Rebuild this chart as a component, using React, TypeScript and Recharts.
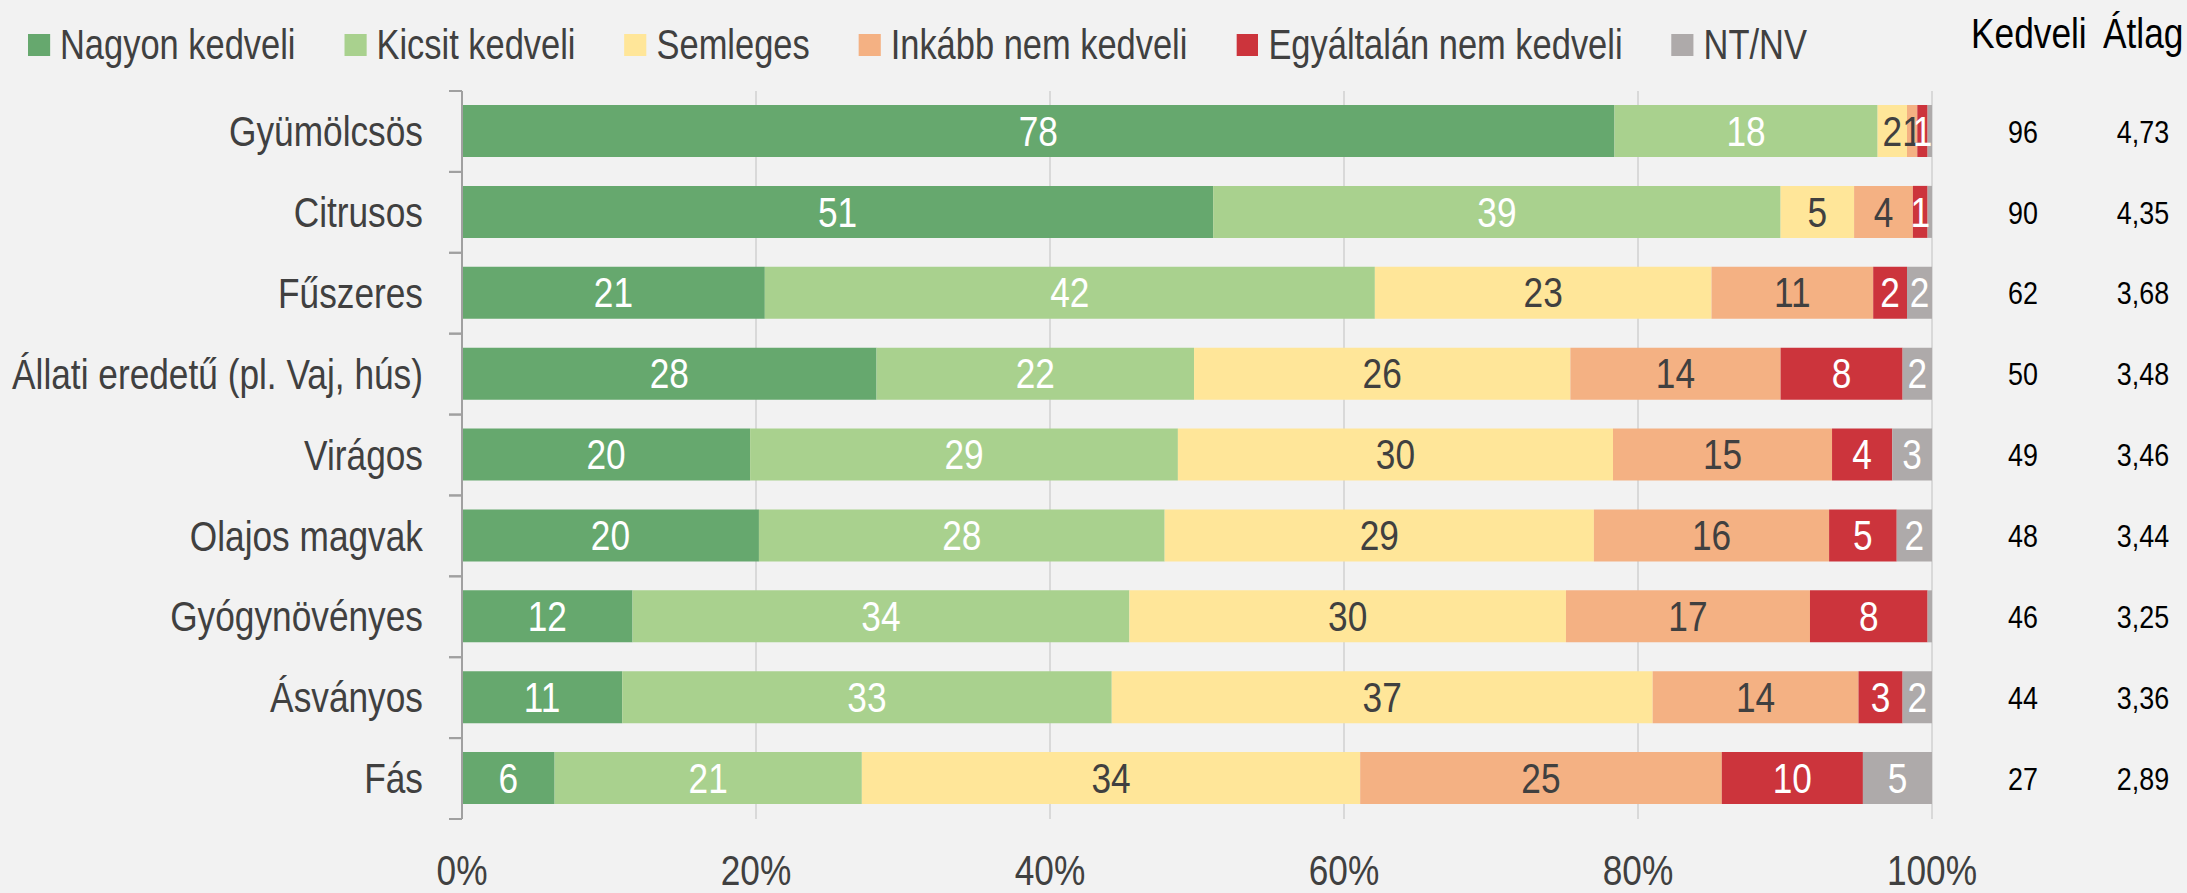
import React from "react";
import {
  BarChart,
  Bar,
  XAxis,
  YAxis,
  CartesianGrid,
  LabelList,
} from "recharts";

// Arial Narrow look-alike: Liberation Sans squeezed horizontally
const FONT = "'Liberation Sans', Arial, sans-serif";
const NARROW = 0.84;
const LEGEND_NARROW = 0.82;

const categories = [
  "Gyümölcsös",
  "Citrusos",
  "Fűszeres",
  "Állati eredetű (pl. Vaj, hús)",
  "Virágos",
  "Olajos magvak",
  "Gyógynövényes",
  "Ásványos",
  "Fás",
];

const nagyon = [78.4, 51.1, 20.6, 28.2, 19.6, 20.2, 11.6, 10.9, 6.3];
const kicsit = [17.9, 38.6, 41.5, 21.6, 29.1, 27.6, 33.8, 33.3, 20.9];
const semleges = [2.0, 5.0, 22.9, 25.6, 29.6, 29.2, 29.7, 36.8, 33.9];
const inkabb = [0.7, 4.0, 11.0, 14.3, 14.9, 16.0, 16.6, 14.0, 24.6];
const egyaltalan = [0.7, 1.0, 2.3, 8.3, 4.1, 4.6, 8.0, 3.0, 9.6];
const ntnv = [0.3, 0.3, 1.7, 2.0, 2.7, 2.4, 0.3, 2.0, 4.7];

const kedveli = [96, 90, 62, 50, 49, 48, 46, 44, 27];
const atlag = ["4,73", "4,35", "3,68", "3,48", "3,46", "3,44", "3,25", "3,36", "2,89"];

const xTicks = [0, 20, 40, 60, 80, 100];

const series = [
  { key: "nagyon", name: "Nagyon kedveli", color: "#66A86E", text: "#FFFFFF" },
  { key: "kicsit", name: "Kicsit kedveli", color: "#A9D18E", text: "#FFFFFF" },
  { key: "semleges", name: "Semleges", color: "#FFE699", text: "#404040" },
  { key: "inkabb", name: "Inkább nem kedveli", color: "#F4B183", text: "#404040" },
  { key: "egyaltalan", name: "Egyáltalán nem kedveli", color: "#CC343C", text: "#FFFFFF" },
  { key: "ntnv", name: "NT/NV", color: "#AEAAAA", text: "#FFFFFF" },
];

const data = categories.map((name, i) => ({
  name,
  nagyon: nagyon[i],
  kicsit: kicsit[i],
  semleges: semleges[i],
  inkabb: inkabb[i],
  egyaltalan: egyaltalan[i],
  ntnv: ntnv[i],
}));

const fmt = (v: any) => {
  const r = Math.round(Number(v));
  return r >= 1 ? String(r) : "";
};

const NText = ({ x, y, anchor = "middle", fill = "#404040", size = 42, dy = "0.35em", children }: any) => (
  <text
    transform={`translate(${x} ${y}) scale(${NARROW} 1)`}
    x={0}
    y={0}
    dy={dy}
    textAnchor={anchor}
    fill={fill}
    fontSize={size}
    fontFamily={FONT}
  >
    {children}
  </text>
);

const CatTick = (props: any) => {
  const { x, y, payload } = props;
  const half = payload.offset ?? 40.45;
  const edge = x + 39;
  return (
    <g>
      <NText x={x} y={y} anchor="end">
        {payload.value}
      </NText>
      <line x1={edge - 13} x2={edge} y1={y - half} y2={y - half} stroke="#A0A0A0" strokeWidth={2} />
      <line x1={edge - 13} x2={edge} y1={y + half} y2={y + half} stroke="#A0A0A0" strokeWidth={2} />
    </g>
  );
};

const PctTick = (props: any) => {
  const { x, y, payload } = props;
  return (
    <NText x={x} y={y} dy="0.71em">
      {`${payload.value}%`}
    </NText>
  );
};

const RightTick = (props: any) => {
  const { x, y, payload } = props;
  const i = categories.indexOf(payload.value);
  return (
    <g>
      <NText x={x + 91} y={y} fill="#000" size={32}>
        {kedveli[i]}
      </NText>
      <NText x={x + 211} y={y} fill="#000" size={32}>
        {atlag[i]}
      </NText>
    </g>
  );
};

const makeLabel = (color: string) => (p: any) => {
  const { x, y, width, height, value } = p;
  const t = fmt(value);
  if (!t) return null;
  return (
    <NText x={x + width / 2} y={y + height / 2} fill={color}>
      {t}
    </NText>
  );
};

const headerStyle: React.CSSProperties = {
  position: "absolute",
  top: 12.5,
  fontSize: 42,
  lineHeight: "42px",
  color: "#000",
  whiteSpace: "nowrap",
  transform: `scaleX(${NARROW})`,
  transformOrigin: "0 0",
};

export default function App() {
  return (
    <div
      style={{
        position: "absolute",
        left: 0,
        top: 0,
        width: 2187,
        height: 893,
        background: "#F2F2F2",
        fontFamily: FONT,
        overflow: "hidden",
      }}
    >
      <div
        style={{
          position: "absolute",
          left: 28,
          top: 23.5,
          display: "flex",
          alignItems: "center",
          fontSize: 42,
          lineHeight: "42px",
          color: "#404040",
          whiteSpace: "nowrap",
          transform: `scaleX(${LEGEND_NARROW})`,
          transformOrigin: "0 0",
        }}
      >
        {series.map((s) => (
          <div key={s.key} style={{ display: "flex", alignItems: "center", marginRight: 49 / LEGEND_NARROW }}>
            <span
              style={{ width: 22 / LEGEND_NARROW, height: 22, background: s.color, marginRight: 10 / LEGEND_NARROW }}
            />
            <span>{s.name}</span>
          </div>
        ))}
      </div>
      <div style={{ ...headerStyle, left: 1971 }}>Kedveli</div>
      <div style={{ ...headerStyle, left: 2103 }}>Átlag</div>
      <BarChart
        width={2187}
        height={893}
        data={data}
        layout="vertical"
        margin={{ top: 91, right: 0, bottom: 0, left: 0 }}
        barSize={52}
      >
        <CartesianGrid horizontal={false} stroke="#D9D9D9" strokeWidth={2} />
        <XAxis
          type="number"
          domain={[0, 100]}
          ticks={xTicks}
          allowDataOverflow
          axisLine={false}
          tickLine={false}
          tickSize={0}
          tickMargin={36}
          height={74}
          tick={<PctTick />}
          interval={0}
        />
        <YAxis
          yAxisId="cat"
          type="category"
          dataKey="name"
          width={462}
          axisLine={{ stroke: "#A0A0A0", strokeWidth: 2 }}
          tickLine={false}
          tickSize={0}
          tickMargin={39}
          tick={<CatTick />}
          interval={0}
        />
        <YAxis
          yAxisId="right"
          orientation="right"
          type="category"
          dataKey="name"
          width={255}
          axisLine={false}
          tickLine={false}
          tickSize={0}
          tickMargin={0}
          tick={<RightTick />}
          interval={0}
        />
        {series.map((s) => (
          <Bar
            key={s.key}
            dataKey={s.key}
            name={s.name}
            stackId="a"
            yAxisId="cat"
            fill={s.color}
            isAnimationActive={false}
          >
            <LabelList dataKey={s.key} position="center" content={makeLabel(s.text)} />
          </Bar>
        ))}
      </BarChart>
    </div>
  );
}
